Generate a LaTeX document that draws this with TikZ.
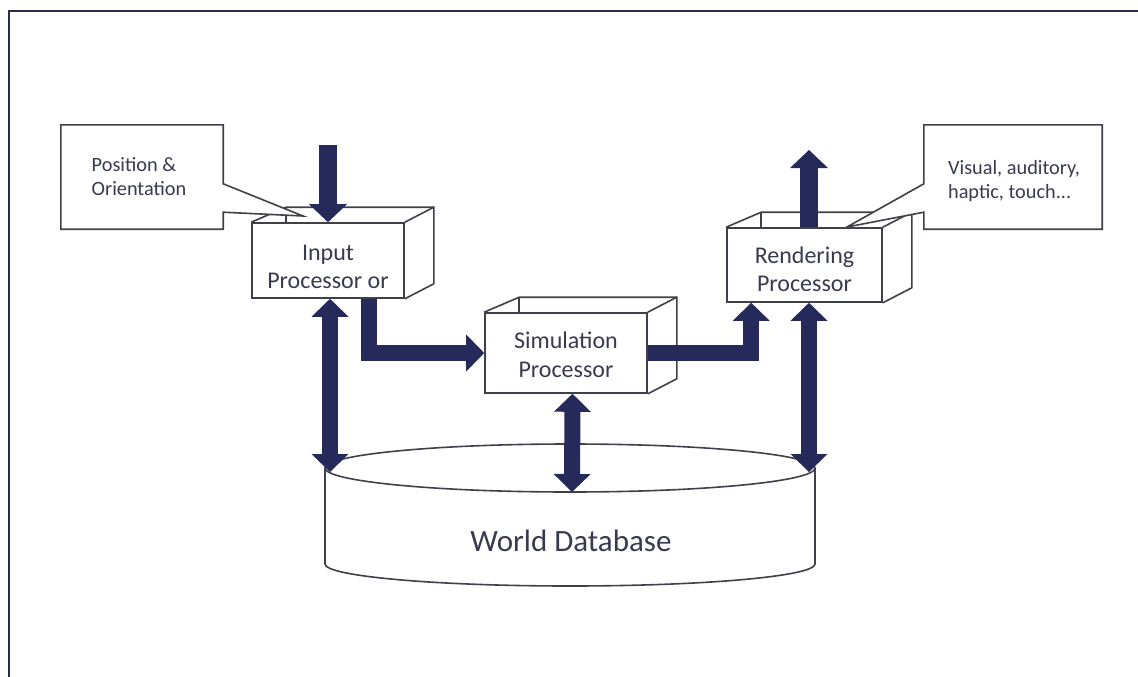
\documentclass[tikz,border=0pt]{standalone}
\usepackage{fontspec}
\setmainfont{Carlito}
\usetikzlibrary{arrows.meta,calc}
\definecolor{navy}{HTML}{252A5A}
\definecolor{ink}{HTML}{383B50}
\definecolor{edge}{HTML}{404049}
\definecolor{framecol}{HTML}{2A2D4C}

% back edges of an open box drawn behind the front face #1
\newcommand\boxdepth[1]{%
  \draw[outline] (#1.north west) -- ++(35,-15) coordinate (#1-btl)
     -- ($(#1.north east)+(29,-15)$) coordinate (#1-btr)
     -- ($(#1.south east)+(29,-15)$) -- (#1.south east);
  \draw[outline] (#1-btl) -- (#1-btl |- #1.north);
  \draw[outline] (#1.north east) -- (#1-btr);
}

\begin{document}
\begin{tikzpicture}[x=1pt,y=-1pt,
  outline/.style={draw=edge, line width=1.6pt, line join=miter},
  procbox/.style={outline, fill=white, rectangle, inner sep=0pt},
  proctext/.style={text=ink, align=center, inner sep=0pt, font=\fontsize{24}{28.5}\selectfont},
  calltext/.style={text=ink, align=left, inner sep=0pt, font=\fontsize{20.3}{24.5}\selectfont},
  dbtext/.style={text=ink, inner sep=0pt, font=\fontsize{31}{36}\selectfont},
  callbox/.style={rectangle, inner sep=0pt},
  flow/.style={draw=navy, line width=16pt, line join=miter, line cap=butt,
    -{Triangle[width=37pt,length=18pt,line width=0pt]}},
  dflow/.style={draw=navy, line width=16pt, line cap=butt,
    {Triangle[width=37pt,length=18pt,line width=0pt]}-{Triangle[width=37pt,length=18pt,line width=0pt]}},
  ioflow/.style={draw=navy, line width=18.5pt, line cap=butt,
    -{Triangle[width=38pt,length=18pt,line width=0pt]}}
]
\useasboundingbox (0,0) rectangle (1138,677);
\fill[white] (0,0) rectangle (1138,677);

% frame
\draw[framecol, line width=2pt] (9,677) -- (9,10.7) -- (1138,10.7);

% processors
\node[procbox, minimum width=152pt, minimum height=75pt] (inp) at (328,260.5) {};
\node[procbox, minimum width=162pt, minimum height=80pt] (sim) at (566,353) {};
\node[procbox, minimum width=155pt, minimum height=74pt] (rend) at (804.5,265) {};
\boxdepth{inp}
\boxdepth{sim}
\boxdepth{rend}
\node[proctext] (inpT) at (328,267) {Input\\Processor or};
\node[proctext] (simT) at (566,355) {Simulation\\Processor};
\node[proctext] (rendT) at (804.5,269.5) {Rendering\\Processor};

% world database cylinder
\coordinate (dbc) at (570,468);
\draw[outline] (dbc) ellipse [x radius=245, y radius=24];
\draw[outline] (325,468) -- (325,564) arc [start angle=180, end angle=0, x radius=245, y radius=22] -- (815,468);
\node[dbtext] (dbT) at (571,541) {World Database};
\coordinate (dbL) at (330,472);
\coordinate (dbM) at (572,492);
\coordinate (dbR) at (809,472);

% callouts
\node[callbox, minimum width=162pt, minimum height=104pt] (poscall) at (142,177) {};
\coordinate (postip) at (303,216);
\draw[outline, fill=white] (poscall.north west) -- (poscall.north east)
  -- ($(poscall.north east)+(0,59)$) -- (postip)
  -- ($(poscall.south east)+(0,-17)$) -- (poscall.south east)
  -- (poscall.south west) -- cycle;
\node[calltext] (posT) at (139,176.5) {Position \&\\Orientation};

\node[callbox, minimum width=178pt, minimum height=104pt] (outcall) at (1013,177) {};
\coordinate (outtip) at (847,227);
\draw[outline, fill=white] (outcall.north west) -- (outcall.north east)
  -- (outcall.south east) -- (outcall.south west)
  -- ($(outcall.south west)+(0,-17)$) -- (outtip)
  -- ($(outcall.north west)+(0,59)$) -- cycle;
\node[calltext] (outT) at (1014,181) {Visual, auditory,\\haptic, touch...};

% data flow
\coordinate (inpsrc) at (328,145);
\coordinate (rendout) at (809,150);
\draw[ioflow] (inpsrc) -- (inp.north);
\draw[ioflow] ($(rend.north)+(4.5,0)$) -- (rendout);
\draw[flow] ($(inp.south west)+(118,0)$) |- (sim.west);
\draw[flow] (sim.east) -| ($(rend.south west)+(25,0)$);
\draw[dflow] ($(inp.south)+(2,0)$) -- (dbL);
\draw[dflow] ($(sim.south)+(6.5,0)$) -- (dbM);
\draw[dflow] ($(rend.south)+(4.5,0)$) -- (dbR);
\end{tikzpicture}
\end{document}
